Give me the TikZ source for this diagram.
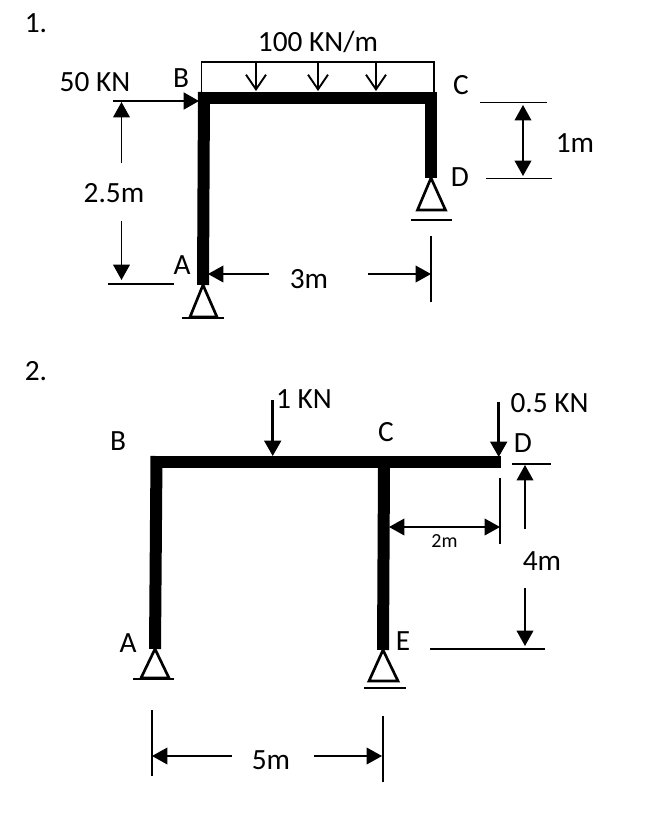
\documentclass[tikz,border=0pt]{standalone}
\usepackage{fontspec}
\setmainfont{Carlito}
\usetikzlibrary{arrows.meta}
\tikzset{
  member/.style={line width=9pt,line cap=butt},
  thinline/.style={line width=1.1pt},
  dimline/.style={line width=1.1pt,-{Triangle[length=11.5pt,width=12.5pt]}},
  bothdim/.style={line width=1.1pt,{Triangle[length=11.5pt,width=12.5pt]}-{Triangle[length=11.5pt,width=12.5pt]}},
  forcearrow/.style={line width=2pt,-{Triangle[length=11.5pt,width=12.5pt]}},
  loadarrow/.style={line width=1.4pt,-{Straight Barb[length=11pt,width=15pt,line width=1.4pt]}},
  loadframe/.style={line width=1.4pt},
  pinshape/.style={line width=2pt,line join=miter,fill=white},
  groundline/.style={line width=2pt},
  lbl/.style={inner sep=0pt,font=\fontsize{22}{26}\selectfont},
  smalllbl/.style={inner sep=0pt,font=\fontsize{15}{18}\selectfont}
}
\begin{document}
\begin{tikzpicture}[x=0.75pt,y=-0.75pt]
\useasboundingbox (0,0) rectangle (646,826);
% ---- Frame 1 coordinates
\coordinate (a1) at (203,285); \coordinate (b1t) at (204,92);
\coordinate (b1) at (199,98); \coordinate (c1) at (437,98);
\coordinate (c1t) at (431,95); \coordinate (d1) at (431,178);
\coordinate (lfa) at (201.5,92); \coordinate (lfb) at (201.5,62);
\coordinate (lfc) at (434,62); \coordinate (lfd) at (434,92);
\coordinate (la1) at (256,62); \coordinate (la1e) at (256,91);
\coordinate (la2) at (318,62); \coordinate (la2e) at (318,91);
\coordinate (la3) at (376,62); \coordinate (la3e) at (376,91);
\coordinate (fh) at (113,101); \coordinate (fhe) at (199,101);
\coordinate (d25a) at (121.5,163); \coordinate (d25ae) at (121.5,102);
\coordinate (d25b) at (121.5,221); \coordinate (d25be) at (121.5,280);
\coordinate (ea1) at (108,284); \coordinate (ea2) at (174,284);
\coordinate (d3a) at (269,274); \coordinate (d3ae) at (208,274);
\coordinate (d3b) at (368,274); \coordinate (d3be) at (431,274);
\coordinate (ev1) at (431,236); \coordinate (ev2) at (431,302);
\coordinate (ec1) at (480,102.5); \coordinate (ec2) at (547,102.5);
\coordinate (ed1) at (486,178.5); \coordinate (ed2) at (552,178.5);
\coordinate (d1m) at (523,105); \coordinate (d1me) at (523,176);
\coordinate (pd1) at (417.5,210); \coordinate (pd2) at (445.5,210);
\coordinate (gd1) at (411,220); \coordinate (gd2) at (452,220);
\coordinate (pa1) at (190,317); \coordinate (pa2) at (217,317);
\coordinate (ga1) at (182,318); \coordinate (ga2) at (224,318);
% ---- Frame 1 drawing
\draw[loadframe] (lfa) -- (lfb) -- (lfc) -- (lfd);
\draw[loadarrow] (la1) -- (la1e);
\draw[loadarrow] (la2) -- (la2e);
\draw[loadarrow] (la3) -- (la3e);
\draw[member] (a1) -- (b1t);
\draw[member] (b1) -- (c1);
\draw[member] (c1t) -- (d1);
\draw[pinshape] (d1) -- (pd1) -- (pd2) -- cycle;
\draw[groundline] (gd1) -- (gd2);
\draw[pinshape] (a1) -- (pa1) -- (pa2) -- cycle;
\draw[groundline] (ga1) -- (ga2);
\draw[forcearrow] (fh) -- (fhe);
\draw[dimline] (d25a) -- (d25ae);
\draw[dimline] (d25b) -- (d25be);
\draw[thinline] (ea1) -- (ea2);
\draw[dimline] (d3a) -- (d3ae);
\draw[dimline] (d3b) -- (d3be);
\draw[thinline] (ev1) -- (ev2);
\draw[thinline] (ec1) -- (ec2);
\draw[thinline] (ed1) -- (ed2);
\draw[bothdim] (d1m) -- (d1me);
% ---- Frame 1 labels
\node[lbl] (t1) at (36,23) {1.};
\node[lbl] (tload) at (318,42) {100 KN/m};
\node[lbl] (t50) at (95,82) {50 KN};
\node[lbl] (tb1) at (181,78) {B};
\node[lbl] (tc1) at (461,85) {C};
\node[lbl] (td1) at (460,177) {D};
\node[lbl] (ta1) at (182,265) {A};
\node[lbl] (t25) at (114,193) {2.5m};
\node[lbl] (t3) at (309,279) {3m};
\node[lbl] (t1m) at (575,143) {1m};
% ---- Frame 2 coordinates
\coordinate (a2) at (155,649); \coordinate (b2t) at (156.5,456);
\coordinate (b2) at (152,462); \coordinate (d2) at (501,462);
\coordinate (c2t) at (384,468); \coordinate (e2) at (383,650);
\coordinate (f1) at (272.7,400); \coordinate (f1e) at (272.7,456);
\coordinate (f2) at (498.7,402); \coordinate (f2e) at (498.7,457);
\coordinate (eda) at (512,464); \coordinate (edb) at (551,464);
\coordinate (eea) at (430,649); \coordinate (eeb) at (545,649);
\coordinate (d2m) at (389,527); \coordinate (d2me) at (500,527);
\coordinate (v2a) at (500,478); \coordinate (v2b) at (500,544);
\coordinate (d4a) at (525,529); \coordinate (d4ae) at (525,465);
\coordinate (d4b) at (525,588); \coordinate (d4be) at (525,646);
\coordinate (d5a) at (232,756); \coordinate (d5ae) at (152,756);
\coordinate (d5b) at (314,756); \coordinate (d5be) at (382,756);
\coordinate (v5a) at (152,710); \coordinate (v5b) at (152,776);
\coordinate (v5c) at (383,716); \coordinate (v5d) at (383,782);
\coordinate (p2a1) at (141,678); \coordinate (p2a2) at (169,678);
\coordinate (g2a1) at (133,679); \coordinate (g2a2) at (174,679);
\coordinate (p2e1) at (369,681); \coordinate (p2e2) at (398,681);
\coordinate (g2e1) at (364,688); \coordinate (g2e2) at (406,688);
% ---- Frame 2 drawing
\draw[member] (a2) -- (b2t);
\draw[member] (b2) -- (d2);
\draw[member] (c2t) -- (e2);
\draw[pinshape] (a2) -- (p2a1) -- (p2a2) -- cycle;
\draw[groundline] (g2a1) -- (g2a2);
\draw[pinshape] (e2) -- (p2e1) -- (p2e2) -- cycle;
\draw[groundline] (g2e1) -- (g2e2);
\draw[forcearrow] (f1) -- (f1e);
\draw[forcearrow] (f2) -- (f2e);
\draw[thinline] (eda) -- (edb);
\draw[thinline] (eea) -- (eeb);
\draw[bothdim] (d2m) -- (d2me);
\draw[thinline] (v2a) -- (v2b);
\draw[dimline] (d4a) -- (d4ae);
\draw[dimline] (d4b) -- (d4be);
\draw[dimline] (d5a) -- (d5ae);
\draw[dimline] (d5b) -- (d5be);
\draw[thinline] (v5a) -- (v5b);
\draw[thinline] (v5c) -- (v5d);
% ---- Frame 2 labels
\node[lbl] (t2) at (36,371) {2.};
\node[lbl] (t1kn) at (304,399) {1 KN};
\node[lbl] (t05) at (549.5,403) {0.5 KN};
\node[lbl] (tb2) at (118,441) {B};
\node[lbl] (tc2) at (386,432) {C};
\node[lbl] (td2) at (523,443) {D};
\node[lbl] (ta2) at (128,643) {A};
\node[lbl] (te2) at (403,641) {E};
\node[smalllbl] (t2m) at (444.5,541) {2m};
\node[lbl] (t4m) at (542,561) {4m};
\node[lbl] (t5m) at (271,760) {5m};
\end{tikzpicture}
\end{document}
